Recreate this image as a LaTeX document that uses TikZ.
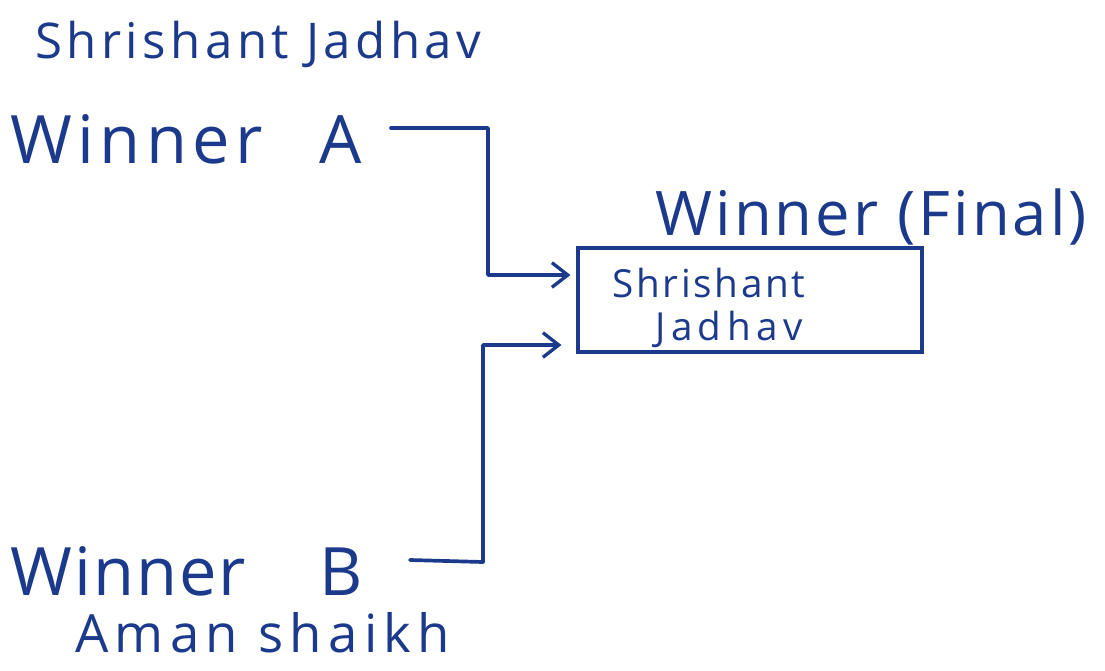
\documentclass[tikz,border=0pt]{standalone}
\usepackage{fontspec}
\setmainfont{Open Sans}
\usetikzlibrary{arrows.meta}
\definecolor{ink}{RGB}{28,58,140}
\newcommand{\lsp}[1]{\addfontfeature{LetterSpace=#1}}
\tikzset{
  lbl/.style={text=ink,anchor=base west,inner sep=0pt},
  wire/.style={draw=ink,line width=2.1pt,line cap=round,line join=round,-{Straight Barb[length=9pt,width=14pt,line width=1.9pt]}},
  winbox/.style={draw=ink,line width=1.8pt,minimum width=6.88cm,minimum height=2.08cm,inner sep=0pt}
}
\begin{document}
\begin{tikzpicture}[x=0.02cm,y=-0.02cm]
\useasboundingbox (0,0) rectangle (1105,670);
\fill[white] (0,0) rectangle (1105,670);
% labels
\node[lbl,font=\fontsize{28}{30}\selectfont\lsp{9}] (top) at (35,58) {Shrishant Jadhav};
\node[lbl,font=\fontsize{38}{40}\selectfont] (wa) at (10,163) {{\lsp{8}Winner}\hspace{0.85em}A};
\node[lbl,font=\fontsize{38}{40}\selectfont] (wb) at (10,595) {{\lsp{3}Winner}\hspace{1.1em}B};
\node[lbl,font=\fontsize{30}{32}\selectfont\lsp{12}] (am) at (75,652) {Aman shaikh};
\node[lbl,font=\fontsize{35}{37}\selectfont\lsp{5}] (wf) at (655,235) {Winner (Final)};
% final box
\node[winbox] (final) at (750,300) {};
\node[lbl,font=\fontsize{22}{24}\selectfont\lsp{7}] (n1) at (612,297) {Shrishant};
\node[lbl,font=\fontsize{22}{24}\selectfont\lsp{14}] (n2) at (655,340) {Jadhav};
% connectors
\coordinate (as) at (391,128);
\coordinate (bs) at (410,560);
\draw[wire] (as) -- (488,128) -- (488,275) -- ([xshift=-0.12cm]final.west |- 0,275);
\draw[wire] (bs) -- (483,562) -- (483,345) -- ([xshift=-0.3cm]final.west |- 0,345);
\end{tikzpicture}
\end{document}
